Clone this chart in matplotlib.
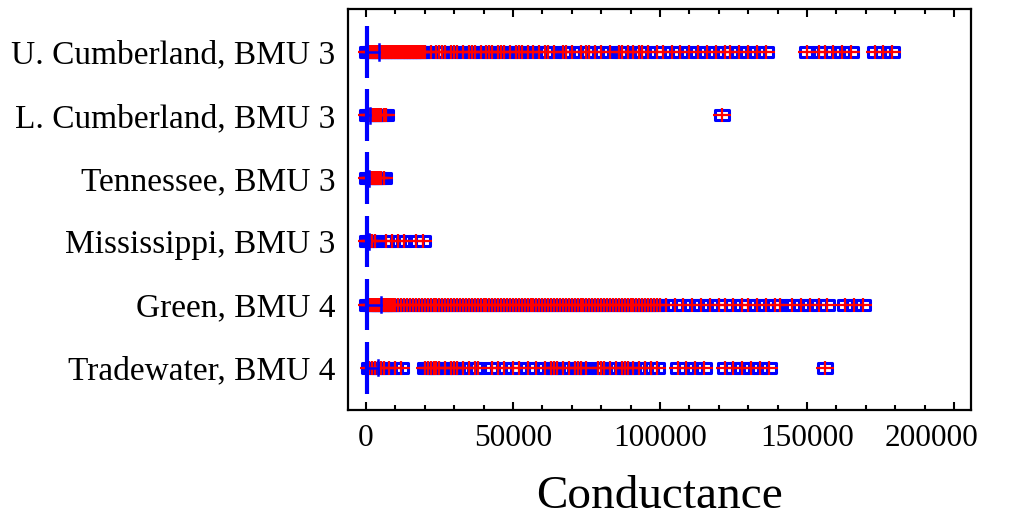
import numpy as np
import matplotlib
matplotlib.use("Agg")
import matplotlib.pyplot as plt
from matplotlib.path import Path
from matplotlib.ticker import MultipleLocator

# rows listed top to bottom
categories = ["U. Cumberland, BMU 3", "L. Cumberland, BMU 3", "Tennessee, BMU 3",
              "Mississippi, BMU 3", "Green, BMU 4", "Tradewater, BMU 4"]

# median (box) and whisker end
medians = [300, 300, 300, 300, 300, 300]
whisker_hi = [4500, 1500, 1200, 1200, 5000, 4000]

# outliers, in thousands
out_ucumb = [0.5, 1, 1.5, 2, 2.5, 3, 3.5, 4, 4.5, 5, 5.5, 6, 6.5, 7, 7.5, 8, 8.5, 9,
             9.5, 10, 10.5, 11, 11.5, 12, 12.5, 13, 13.5, 14, 14.5, 15, 15.5, 16, 16.5,
             17, 17.5, 18, 18.5, 19, 19.5, 20, 22, 24, 25, 26, 27, 29, 30, 31, 33, 35,
             36, 37, 39, 41, 42, 43, 45, 46, 47, 49, 51, 52, 53, 55, 57, 59, 61, 62,
             64, 67, 68, 70, 73, 75, 76, 78, 80, 83, 86, 87, 89, 91, 93, 94, 96, 99,
             101, 104, 107, 110, 113, 116, 119, 122, 124, 127, 130, 133, 136,
             150, 154, 156, 159, 162, 165, 173, 176, 179]
out_lcumb = [0.5, 1, 1.5, 2, 2.5, 3, 3.5, 4, 4.5, 5, 6, 7, 121]
out_tenn = [0.5, 1, 1.5, 2, 2.5, 3, 3.5, 4, 4.5, 5, 6]
out_miss = [0.5, 1, 1.5, 2, 3, 7, 9, 11, 13, 17, 19.5]
out_green = [0.5, 1, 1.5, 2, 2.5, 3, 3.5, 4, 4.5, 5, 5.5, 6, 6.5, 7, 7.5, 8, 8.5, 9,
             9.5, 10, 11, 12, 13, 14, 15, 16, 17, 18, 19, 20, 21, 22, 23, 24, 25, 26,
             27, 28, 29, 30, 31, 32, 33, 34, 35, 36, 37, 38, 39, 40, 41, 42, 43, 44,
             45, 46, 47, 48, 49, 50, 51, 52, 53, 54, 55, 56, 57, 58, 59, 60, 61, 62,
             63, 64, 65, 66, 67, 68, 69, 70, 71, 72, 73, 74, 75, 76, 77, 78, 79, 80,
             81, 82, 83, 84, 85, 86, 87, 88, 89, 90, 91, 92, 93, 94, 95, 96, 97, 98,
             99, 100, 102, 105, 108, 111, 114, 117, 120, 122, 125, 128, 130, 133,
             136, 139, 141, 145, 148, 151, 154, 157, 163, 166, 169]
out_trade = [1, 2, 3, 4, 5, 6, 8, 10, 12, 20, 21, 22, 23, 24, 25, 27, 29, 30, 31, 33,
             35, 37, 38, 43, 45, 47, 50, 52, 55, 58, 61, 63, 64, 65, 67, 69, 71, 72,
             73, 75, 79, 80, 81, 83, 85, 87, 88, 89, 91, 93, 95, 97, 99, 106, 109,
             112, 115, 122, 125, 128, 131, 134, 137, 156]
outliers = [out_ucumb, out_lcumb, out_tenn, out_miss, out_green, out_trade]

xticks = [0, 50000, 100000, 150000, 200000]

plt.rcParams['font.family'] = ['Liberation Serif', 'DejaVu Serif']

# wide rectangle and wide plus for the outlier marks
rect = Path([(-0.7, -0.5), (0.7, -0.5), (0.7, 0.5), (-0.7, 0.5), (-0.7, -0.5)],
            [Path.MOVETO, Path.LINETO, Path.LINETO, Path.LINETO, Path.CLOSEPOLY])
plus = Path([(-0.7, 0), (0.7, 0), (0, -0.55), (0, 0.55)],
            [Path.MOVETO, Path.LINETO, Path.MOVETO, Path.LINETO])

fig = plt.figure(figsize=(10.13, 5.19), dpi=100)
ax = fig.add_axes([0.3435, 0.21, 0.615, 0.7725])

n = len(categories)
ypos = np.arange(n, 0, -1)

for y, vals, med, wh in zip(ypos, outliers, medians, whisker_hi):
    xs = np.array(vals) * 1000
    ax.plot(xs, np.full(len(xs), y), linestyle='none', marker=rect, markersize=10.5,
            markerfacecolor='none', markeredgecolor='#0000ff', markeredgewidth=2.2, zorder=2)
    ax.plot(xs, np.full(len(xs), y), linestyle='none', marker=plus, markersize=12.5,
            markeredgecolor='#ff0000', markeredgewidth=1.6, zorder=3)
    # whisker and cap
    ax.plot([med, wh], [y, y], color='#0000ff', lw=1.8, zorder=4)
    ax.plot([wh, wh], [y - 0.12, y + 0.12], color='#0000ff', lw=1.8, zorder=4)
    # box (collapsed to a line)
    ax.plot([med, med], [y - 0.41, y + 0.41], color='#0000ff', lw=3,
            solid_capstyle='butt', zorder=5)

ax.set_xlim(-6100, 205800)
ax.set_ylim(0.33, n + 0.68)
ax.set_yticks(ypos)
ax.set_yticklabels(categories, fontsize=24)
ax.set_xticks(xticks)
# the last label sits pulled left in the reference, so it is drawn separately
ax.set_xticklabels([str(t) for t in xticks[:-1]] + [""], fontsize=22.5)
ax.annotate(str(xticks[-1]), xy=(xticks[-1], 0), xycoords=ax.get_xaxis_transform(),
            xytext=(-16, -10), textcoords='offset points', fontsize=22.5,
            ha='center', va='top', annotation_clip=False)
ax.xaxis.set_minor_locator(MultipleLocator(10000))
ax.tick_params(axis='x', which='both', direction='in', top=True, bottom=True,
               width=1.5, pad=10)
ax.tick_params(axis='x', which='major', length=6)
ax.tick_params(axis='x', which='minor', length=3.5)
ax.tick_params(axis='y', length=0, pad=9)
for s in ax.spines.values():
    s.set_linewidth(1.6)
ax.set_xlabel("Conductance", fontsize=34, labelpad=16)

fig.savefig("out.png", dpi=100)
